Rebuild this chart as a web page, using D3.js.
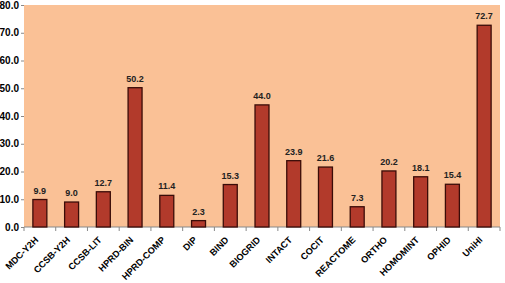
<!DOCTYPE html>
<html><head><meta charset="utf-8">
<script src="https://cdn.jsdelivr.net/npm/d3@7"></script>
<style>body{margin:0;background:#fff}svg{display:block}</style>
</head><body>
<script>
const categories = ["MDC-Y2H","CCSB-Y2H","CCSB-LIT","HPRD-BIN","HPRD-COMP","DIP","BIND","BIOGRID","INTACT","COCIT","REACTOME","ORTHO","HOMOMINT","OPHID","UniHI"];
const values = [9.9,9.0,12.7,50.2,11.4,2.3,15.3,44.0,23.9,21.6,7.3,20.2,18.1,15.4,72.7];
const yTicks = [0,10,20,30,40,50,60,70,80];

const W=505,H=283;
const m={l:24,r:5,t:5,b:56};
const svg=d3.select("body").append("svg").attr("width",W).attr("height",H);
const x=d3.scaleBand().domain(categories).range([m.l,W-m.r]).paddingInner(0.56).paddingOuter(0.28);
const xb=d3.scaleBand().domain(categories).range([m.l,W-m.r]);
const y=d3.scaleLinear().domain([0,80]).range([H-m.b,m.t]);

svg.append("rect").attr("x",m.l).attr("y",m.t).attr("width",W-m.l-m.r).attr("height",H-m.b-m.t).attr("fill","#FAC196");

// y axis
const ya=svg.append("g").attr("transform",`translate(${m.l},0)`).call(d3.axisLeft(y).tickValues(yTicks).tickFormat(d3.format(".1f")).tickSize(3).tickPadding(2));
ya.select(".domain").remove();
ya.selectAll("line").attr("stroke","#888");
ya.selectAll("text").attr("font-family","Liberation Sans, Arial, sans-serif").attr("font-weight","bold").attr("font-size","10px").attr("fill","#000");

// x axis
const xg=svg.append("g").attr("transform",`translate(0,${H-m.b})`);
xg.append("line").attr("x1",m.l).attr("x2",W-m.r).attr("stroke","#888");
xg.selectAll("line.t").data(categories.concat(["_end"])).enter().append("line").attr("class","t")
  .attr("x1",(d,i)=>m.l+i*xb.bandwidth()).attr("x2",(d,i)=>m.l+i*xb.bandwidth()).attr("y1",0).attr("y2",4).attr("stroke","#888");
xg.selectAll("text").data(categories).enter().append("text")
  .attr("transform",d=>`translate(${x(d)+x.bandwidth()/2-1},${13.5}) rotate(-45)`)
  .attr("text-anchor","end").attr("font-family","Liberation Sans, Arial, sans-serif").attr("font-weight","bold").attr("font-size","9.2px").attr("fill","#000")
  .text(d=>d);

// bars
svg.selectAll("rect.bar").data(categories).enter().append("rect").attr("class","bar")
  .attr("x",d=>x(d)).attr("width",x.bandwidth())
  .attr("y",(d,i)=>y(values[i])).attr("height",(d,i)=>y(0)-y(values[i]))
  .attr("fill","#B23A2B").attr("stroke","#3A0C08").attr("stroke-width",1.3);

svg.selectAll("text.val").data(categories).enter().append("text").attr("class","val")
  .attr("x",d=>x(d)+x.bandwidth()/2).attr("y",(d,i)=>y(values[i])-6)
  .attr("text-anchor","middle").attr("font-family","Liberation Sans, Arial, sans-serif").attr("font-weight","bold").attr("font-size","9px").attr("fill","#222")
  .text((d,i)=>values[i].toFixed(1));
</script>
</body></html>
